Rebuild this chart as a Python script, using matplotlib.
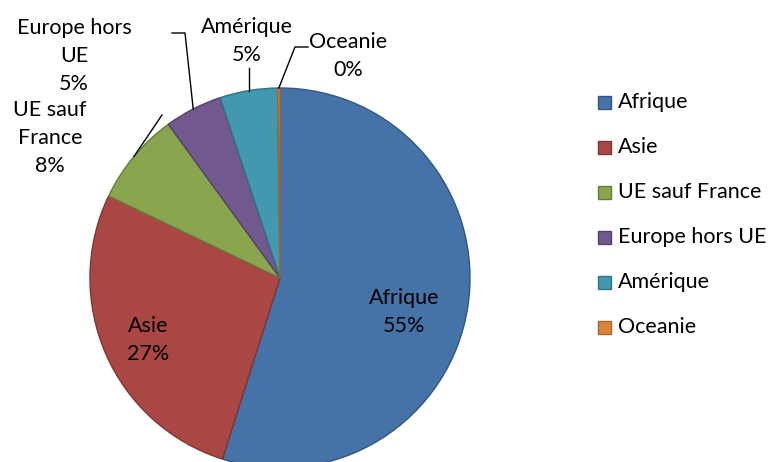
import numpy as np
import matplotlib.pyplot as plt
import matplotlib.colors as mcolors
from matplotlib.patches import Rectangle

plt.rcParams['font.family'] = ['Lato', 'DejaVu Sans']

# --- data
regions = ["Afrique", "Asie", "UE sauf France", "Europe hors UE", "Amérique", "Oceanie"]
shares = [54.9, 27.2, 7.9, 4.9, 4.9, 0.2]
pct_labels = ["55%", "27%", "8%", "5%", "5%", "0%"]
colors = ["#4572A7", "#AA4643", "#89A54E", "#71588F", "#4198AF", "#DB843D"]

W, H = 771, 462


def py(y):
    # pixel row (top origin) -> data y
    return H - y


fig = plt.figure(figsize=(W / 100, H / 100), dpi=100)
ax = fig.add_axes([0, 0, 1, 1])

cx, cy, r = 280, py(278), 190
wedges, _ = ax.pie(shares, colors=colors, startangle=90, counterclock=False,
                   center=(cx, cy), radius=r, frame=True)
ax.set_xlim(0, W)
ax.set_ylim(0, H)
ax.set_aspect("equal")
ax.axis("off")
for w, c in zip(wedges, colors):
    dark = np.array(mcolors.to_rgb(c)) * 0.75
    w.set_edgecolor(dark)
    w.set_linewidth(1.0)


def mid_point(w, frac):
    a = np.deg2rad((w.theta1 + w.theta2) / 2)
    return cx + frac * r * np.cos(a), cy + frac * r * np.sin(a)


fs = 15.5
ls = 1.5

# inside labels
for i, (dx, dy) in [(0, (0, -15)), (1, (-17, -12))]:
    x, y = mid_point(wedges[i], 0.66)
    ax.text(x + dx, y + dy, regions[i] + "\n" + pct_labels[i], ha="center", va="center",
            fontsize=fs, linespacing=ls)

# outside labels with leader lines
ax.text(74, py(56), "Europe hors\nUE\n" + pct_labels[3], ha="center", va="center",
        fontsize=fs, linespacing=ls)
ex, ey = mid_point(wedges[3], 1.0)
ax.plot([172, 185, ex], [py(33), py(33), ey], color="black", lw=1)

ax.text(50, py(138), "UE sauf\nFrance\n" + pct_labels[2], ha="center", va="center",
        fontsize=fs, linespacing=ls)
ex, ey = mid_point(wedges[2], 1.0)
ax.plot([162, ex], [py(115), ey], color="black", lw=1)

ax.text(247, py(41), regions[4] + "\n" + pct_labels[4], ha="center", va="center",
        fontsize=fs, linespacing=ls)
ex, ey = mid_point(wedges[4], 1.0)
ax.plot([ex, ex], [py(68), ey], color="black", lw=1)

ax.text(348, py(56), regions[5] + "\n" + pct_labels[5], ha="center", va="center",
        fontsize=fs, linespacing=ls)
ex, ey = mid_point(wedges[5], 1.0)
ax.plot([308, 295, ex], [py(47), py(47), ey], color="black", lw=1)

# legend
for k, (name, c) in enumerate(zip(regions, colors)):
    yy = py(102 + 45 * k)
    dark = np.array(mcolors.to_rgb(c)) * 0.75
    ax.add_patch(Rectangle((598, yy - 6.5), 13, 13, facecolor=c, edgecolor=dark, lw=1))
    ax.text(618, yy, name, ha="left", va="center", fontsize=fs)

fig.savefig("out.png", dpi=100)
